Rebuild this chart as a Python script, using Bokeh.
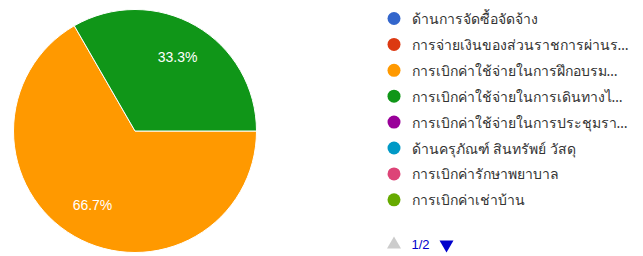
import math
from bokeh.plotting import figure
from bokeh.models import Range1d, ColumnDataSource
from bokeh.core.properties import value
from bokeh.embed import file_html
from bokeh.resources import INLINE

# ---- data ----
categories = [
    "ด้านการจัดซื้อจัดจ้าง",
    "การจ่ายเงินของส่วนราชการผ่านร…",
    "การเบิกค่าใช้จ่ายในการฝึกอบรม…",
    "การเบิกค่าใช้จ่ายในการเดินทางไ…",
    "การเบิกค่าใช้จ่ายในการประชุมรา…",
    "ด้านครุภัณฑ์ สินทรัพย์ วัสดุ",
    "การเบิกค่ารักษาพยาบาล",
    "การเบิกค่าเช่าบ้าน",
]
counts = [0, 0, 2, 1, 0, 0, 0, 0]
colors = ["#3366cc", "#dc3912", "#ff9900", "#109618",
          "#990099", "#0099c6", "#dd4477", "#66aa00"]
page_label = "1/2"

# ---- layout (screen pixels) ----
W, H = 635, 256
def py(y):  # screen y -> data y
    return H - y

p = figure(width=W, height=H, output_backend="svg", toolbar_location=None,
           x_range=Range1d(0, W), y_range=Range1d(0, H),
           min_border=0, outline_line_color=None)
p.axis.visible = False
p.grid.visible = False
p.background_fill_color = "white"

cx, cy, r = 134.5, 130.5, 121.5
total = sum(counts)
starts, ends, cols, lx, ly, labs = [], [], [], [], [], []
cum = 0.0
for c, col in zip(counts, colors):
    if c == 0:
        continue
    frac = c / total
    a0 = -cum * 2 * math.pi
    a1 = -(cum + frac) * 2 * math.pi
    starts.append(a1)
    ends.append(a0)
    cols.append(col)
    mid = (a0 + a1) / 2
    lx.append(cx + 0.7 * r * math.cos(mid))
    ly.append(py(cy) + 0.7 * r * math.sin(mid))
    labs.append(f"{frac*100:.1f}%")
    cum += frac

src = ColumnDataSource(dict(s=starts, e=ends, c=cols))
p.wedge(x=cx, y=py(cy), radius=r, start_angle="s", end_angle="e",
        fill_color="c", line_color="white", line_width=1, source=src)
p.text(x=lx, y=ly, text=labs, text_color="white", text_font=value("Liberation Sans"),
       text_font_size="14px", text_align="center", text_baseline="middle")

# legend
leg_y = [py(18 + 25.9 * i) for i in range(len(categories))]
p.scatter(x=[393.5] * len(categories), y=leg_y, size=13, marker="circle",
          fill_color=colors, line_color=None)
p.text(x=[411] * len(categories), y=leg_y, text=categories, text_color="#333333",
       text_font=value("Noto Sans"), text_font_size="14px",
       text_align="left", text_baseline="middle")

# paging
p.scatter(x=[393.5], y=[py(244)], marker="triangle", size=14,
          fill_color="#cccccc", line_color=None)
p.scatter(x=[446], y=[py(244)], marker="inverted_triangle", size=14,
          fill_color="#0000cc", line_color=None)
p.text(x=[411], y=[py(244)], text=[page_label], text_color="#0000cc",
       text_font=value("Liberation Sans"), text_font_size="13px",
       text_align="left", text_baseline="middle")

open("out.html", "w").write(file_html(p, INLINE))
